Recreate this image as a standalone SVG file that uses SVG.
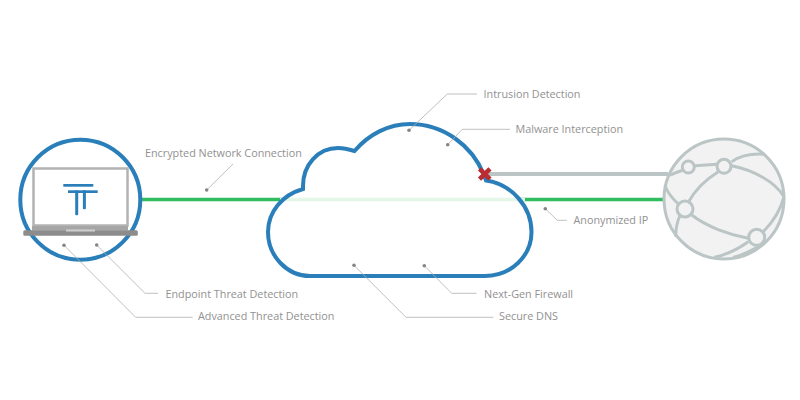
<svg xmlns="http://www.w3.org/2000/svg" width="800" height="400" viewBox="0 0 800 400">
<style>
text{font-family:"Open Sans","Noto Sans",sans-serif;font-size:10.8px;fill:#919191}
.lead{fill:none;stroke:#b0b0b0;stroke-width:.8}
.dot{fill:#858585}
.g{fill:none;stroke:#bcc5c5;stroke-width:3}
.n{fill:#f2f2f2;stroke:#bcc5c5;stroke-width:3}
.cloud{stroke-linejoin:miter}
</style>
<rect width="800" height="400" fill="#fff"/>
<defs>
<path id="cloud-shape" class="cloud" d="M310 276H485C511 276 531.500 256 531.500 232C531.500 206 511 184 486 180.500L484 175C472 145 443 124 410 124C389 124 369 134 354.500 151C348 149 343 148 338 148C318 148 303 165 303 186L303 189C282 195 268 212 268 232C268 256 287 276 310 276Z"/>
</defs>
<g id="connectors">
<path d="M140 199.500H282" stroke="#2fbd5f" stroke-width="3.500" fill="none"/>
<path d="M520 199.500H665" stroke="#2fbd5f" stroke-width="3.500" fill="none"/>
<path d="M486 174H668" stroke="#bcc5c5" stroke-width="4" fill="none"/>
</g>
<g id="cloud">
<use href="#cloud-shape" fill="#fff"/>
<path d="M280 199.500H525" stroke="#e3f6e8" stroke-width="3.500" fill="none"/>
<use href="#cloud-shape" fill="none" stroke="#2a7fba" stroke-width="4"/>
<path d="M479.500 168.800L490 179.200M490 168.800L479.500 179.200" stroke="#b92c32" stroke-width="4.500" fill="none"/>
</g>
<g id="laptop">
<circle cx="80.300" cy="199.700" r="60" fill="#fff" stroke="#2a7fba" stroke-width="4"/>
<rect x="33.500" y="168.500" width="94" height="57" fill="#fff" stroke="#b3b3b3" stroke-width="2.500"/>
<rect x="32" y="226" width="96" height="4.500" fill="#a6a6a6"/>
<rect x="23.300" y="230.300" width="114.500" height="5.500" rx="1.500" fill="#8c8c8c"/>
<rect x="66" y="229.500" width="29" height="2" fill="#cfcfcf"/>
<g fill="#2a7fba">
<rect x="63.300" y="184" width="30" height="2.700"/>
<rect x="68" y="190.300" width="29.700" height="2.700"/>
<rect x="75.200" y="190.300" width="3" height="25" rx="1"/>
<rect x="82.900" y="190.300" width="3" height="19" rx="1"/>
</g>
</g>
<g id="globe">
<circle cx="724" cy="199" r="60" class="n"/>
<path class="g" d="M670 175C675 173 679 171.500 683.300 170M695 165.700L716.700 164.300M731.700 161.700C737 158 747 153 765 154.300M731.700 165.700C753.300 170 775 181.700 784 196.700M718.300 171.700C705 180 695 190 688.300 202.300M665 185C667 193 673 199 678.300 204M680 215.700C677 222 675.700 229 675.700 236.700M691.700 215C706.700 226.700 730 235 748.300 238.300M763.300 231.700C773.300 221.700 781 208.300 784 196.700M748.300 241.700C736.700 250 725 255 714 257.500M763.300 243.300C753.300 250 743.300 255 733 257.500"/>
<circle cx="688.300" cy="167" r="6" class="n"/>
<circle cx="724" cy="166.300" r="7" class="n"/>
<circle cx="685" cy="209" r="8" class="n"/>
<circle cx="756.700" cy="237.300" r="8" class="n"/>
</g>
<g id="labels">
<g id="l-encrypted"><path class="lead" d="M206.700 190L233 164"/><circle class="dot" cx="206.700" cy="190" r="1.800"/><text x="145" y="157">Encrypted Network Connection</text></g>
<g id="l-intrusion"><path class="lead" d="M409 130.300L447.300 94H477"/><circle class="dot" cx="409" cy="130.300" r="1.800"/><text x="483.500" y="98">Intrusion Detection</text></g>
<g id="l-malware"><path class="lead" d="M447.700 144.700L462.300 129.300H510"/><circle class="dot" cx="447.700" cy="144.700" r="1.800"/><text x="515.500" y="133">Malware Interception</text></g>
<g id="l-endpoint"><path class="lead" d="M96.700 245L145 293.300H158"/><circle class="dot" cx="96.700" cy="245" r="1.800"/><text x="165.500" y="298">Endpoint Threat Detection</text></g>
<g id="l-advanced"><path class="lead" d="M64 245.300L135.700 317.300H192.700"/><circle class="dot" cx="64" cy="245.300" r="1.800"/><text x="198" y="320">Advanced Threat Detection</text></g>
<g id="l-nextgen"><path class="lead" d="M424.300 265.700L451.700 293.300H476.700"/><circle class="dot" cx="424.300" cy="265.700" r="1.800"/><text x="484" y="298">Next-Gen Firewall</text></g>
<g id="l-dns"><path class="lead" d="M354 265.300L406 317.300H493.300"/><circle class="dot" cx="354" cy="265.300" r="1.800"/><text x="499" y="320">Secure DNS</text></g>
<g id="l-anon"><path class="lead" d="M545.300 208.700L557.300 220.300H566.700"/><circle class="dot" cx="545.300" cy="208.700" r="1.800"/><text x="573.500" y="224">Anonymized IP</text></g>
</g>
</svg>
